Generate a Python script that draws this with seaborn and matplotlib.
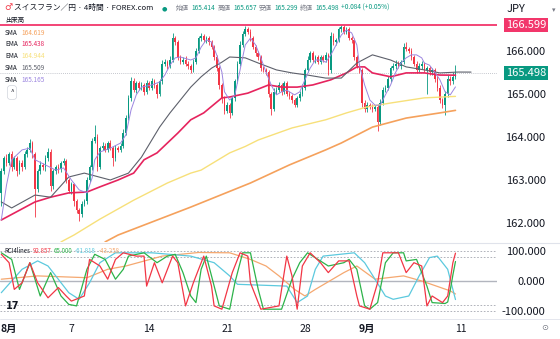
import numpy as np
import pandas as pd
import matplotlib
matplotlib.use("Agg")
import matplotlib.pyplot as plt
import seaborn as sns
from matplotlib.transforms import blended_transform_factory

# ---------------- data ----------------
first_open = 162.7
close = [
    163.2, 163.5, 163.4, 163.6, 163.3, 163.5, 163.2, 163.4, 163.3, 163.6,
    163.7, 163.85, 163.6, 162.8, 163.2, 163.35, 163.3, 163.5, 163.65, 162.85,
    163.2, 163.3, 163.25, 163.4, 163.45, 163.0, 162.75, 162.9, 162.5, 162.3,
    162.2, 162.45, 162.5, 163.0, 163.3, 163.9, 164.0, 163.3, 163.75, 163.8,
    163.7, 163.85, 163.75, 163.5, 163.75, 163.7, 163.8, 164.1, 164.45, 164.9,
    165.3, 165.1, 165.25, 165.15, 165.2, 165.05, 165.25, 165.15, 165.3, 165.2,
    165.0, 165.3, 165.7, 165.75, 165.65, 165.8, 166.3, 166.2, 165.85, 165.75,
    165.8, 165.7, 165.65, 165.55, 165.75, 166.0, 166.3, 166.35, 166.25, 166.3,
    166.2, 166.1, 165.85, 165.6, 165.2, 164.9, 164.6, 164.75, 164.55, 164.9,
    165.3, 165.7, 166.15, 166.4, 166.5, 166.45, 166.3, 166.1, 165.95, 165.85,
    165.6, 165.55, 165.5, 165.0, 164.65, 165.05, 165.1, 165.2, 165.05, 165.25,
    165.0, 164.95, 164.85, 164.75, 164.9, 165.0, 165.15, 165.55, 165.8, 165.95,
    165.8, 165.85, 165.75, 165.85, 165.8, 165.9, 165.55, 166.35, 166.2, 166.25,
    166.5, 166.55, 166.45, 166.5, 166.3, 166.25, 165.85, 165.65, 165.55, 164.8,
    164.65, 164.75, 164.7, 164.65, 164.7, 164.35, 164.8, 165.1, 165.15, 165.35,
    165.6, 165.65, 165.7, 165.65, 165.75, 166.1, 166.05, 166.0, 165.85, 165.7,
    165.55, 165.65, 165.7, 165.55, 165.6, 165.5, 165.55, 165.35, 165.15, 164.85,
    164.75, 165.0, 165.35, 165.3, 165.4, 165.498,
]
upper_wick = [  # hundredths of a yen
    8, 6, 10, 5, 8, 6, 5, 7, 6, 8,
    6, 10, 5, 4, 6, 8, 5, 7, 10, 6,
    5, 6, 8, 5, 6, 4, 5, 6, 4, 5,
    6, 5, 6, 8, 6, 8, 28, 6, 5, 8,
    6, 5, 8, 5, 6, 5, 6, 8, 6, 8,
    10, 8, 6, 5, 8, 6, 8, 6, 8, 6,
    5, 6, 8, 6, 5, 8, 12, 6, 5, 6,
    5, 8, 6, 5, 6, 8, 6, 6, 5, 6,
    5, 6, 5, 6, 5, 6, 5, 6, 5, 6,
    5, 6, 8, 6, 8, 6, 5, 6, 5, 6,
    5, 6, 5, 6, 5, 8, 6, 8, 5, 6,
    5, 6, 5, 6, 5, 6, 8, 6, 8, 6,
    5, 6, 5, 6, 5, 8, 6, 10, 6, 5,
    6, 5, 6, 6, 5, 6, 5, 6, 5, 6,
    5, 6, 5, 6, 5, 6, 8, 6, 5, 6,
    5, 6, 8, 6, 5, 8, 10, 5, 6, 5,
    6, 8, 6, 5, 6, 5, 6, 5, 6, 5,
    6, 6, 8, 6, 10, 17,
]
lower_wick = [
    30, 6, 8, 6, 8, 5, 10, 6, 8, 5,
    6, 5, 8, 66, 8, 5, 6, 8, 5, 10,
    6, 5, 8, 6, 5, 8, 6, 8, 10, 6,
    15, 6, 5, 6, 5, 6, 5, 8, 5, 6,
    5, 6, 5, 18, 6, 5, 6, 5, 6, 5,
    6, 5, 8, 6, 5, 8, 6, 5, 6, 5,
    10, 5, 6, 5, 8, 5, 6, 5, 6, 5,
    6, 5, 8, 6, 5, 6, 5, 6, 5, 6,
    5, 6, 5, 6, 8, 10, 6, 5, 10, 5,
    6, 5, 6, 5, 6, 5, 6, 5, 6, 5,
    6, 5, 6, 8, 15, 5, 6, 5, 8, 6,
    5, 6, 5, 6, 5, 6, 5, 6, 5, 6,
    5, 8, 6, 5, 6, 5, 10, 6, 5, 6,
    5, 6, 5, 6, 5, 6, 6, 5, 6, 10,
    8, 6, 5, 6, 5, 20, 6, 5, 6, 5,
    6, 5, 6, 5, 6, 5, 6, 5, 6, 5,
    6, 5, 6, 5, 55, 6, 5, 6, 8, 6,
    8, 24, 6, 8, 6, 6,
]

# moving averages (candle index, price)
sma_fast_i = [0, 2, 4, 8, 11, 13, 17, 21, 24, 27, 30, 33, 35, 36, 38, 42, 46, 48, 50, 52, 54, 58, 61, 63, 65, 67, 69,
              73, 75, 77, 79, 81, 83, 85, 86, 88, 90, 92, 94, 96, 98, 100, 102, 104, 106, 108, 110, 111, 113, 115,
              117, 119, 121, 123, 125, 127, 129, 131, 133, 135, 137, 138, 140, 142, 144, 146, 148, 150, 152, 154,
              156, 158, 160, 162, 163, 165, 167, 169, 171, 173, 175]
sma_fast_v = [162.07, 162.88, 163.47, 163.70, 163.74, 163.47, 163.35, 163.23, 163.28, 163.00, 162.77, 162.70, 163.05,
              163.47, 163.65, 163.74, 163.86, 164.05, 164.63, 164.98, 165.16, 165.21, 165.28, 165.44, 165.67, 165.84,
              165.86, 165.79, 165.84, 166.09, 166.26, 166.21, 165.91, 165.51, 165.05, 164.86, 164.98, 165.56, 166.14,
              166.30, 166.14, 165.84, 165.51, 165.21, 164.98, 165.05, 165.09, 165.05, 164.98, 165.05, 165.33, 165.60,
              165.79, 165.79, 165.74, 165.91, 166.14, 166.37, 166.49, 166.42, 166.14, 165.67, 165.21, 164.86, 164.74,
              164.74, 164.98, 165.21, 165.51, 165.72, 165.84, 165.91, 165.91, 165.84, 165.72, 165.67, 165.51, 165.33,
              165.05, 164.98, 165.165]
sma_mid_i = [0, 4, 13, 19, 26, 32, 42, 49, 54, 58, 61, 65, 69, 73, 77, 81, 85, 88, 94, 99, 106, 112, 118, 125, 131,
             137, 143, 150, 156, 163, 169, 176, 181]
sma_mid_v = [162.49, 162.35, 162.65, 162.60, 163.07, 163.16, 163.00, 163.16, 163.53, 163.93, 164.23, 164.56, 164.86,
             165.16, 165.40, 165.60, 165.74, 165.86, 165.84, 165.72, 165.56, 165.49, 165.44, 165.37, 165.37, 165.72,
             165.91, 165.79, 165.63, 165.56, 165.49, 165.51, 165.509]
ema_mid_i = [0, 13, 19, 26, 33, 38, 45, 51, 55, 60, 68, 73, 78, 85, 88, 95, 103, 108, 114, 120, 127, 133, 137, 140,
             143, 150, 156, 163, 169, 175]
ema_mid_v = [162.07, 162.49, 162.60, 162.70, 162.72, 162.84, 163.00, 163.16, 163.47, 163.63, 164.09, 164.40, 164.56,
             164.91, 164.93, 165.02, 165.21, 165.16, 165.16, 165.21, 165.33, 165.49, 165.63, 165.63, 165.49, 165.40,
             165.49, 165.49, 165.44, 165.438]
ema_slow_i = [23, 28, 38, 51, 64, 73, 77, 88, 94, 99, 112, 125, 133, 141, 150, 163, 175]
ema_slow_v = [161.56, 161.72, 162.09, 162.53, 162.93, 163.16, 163.23, 163.63, 163.78, 163.93, 164.21, 164.40, 164.56,
              164.70, 164.79, 164.91, 164.944]
sma_slow_i = [40, 45, 73, 96, 111, 125, 131, 143, 156, 169, 175]
sma_slow_v = [161.56, 161.72, 162.37, 162.93, 163.35, 163.70, 163.86, 164.23, 164.44, 164.56, 164.619]

# RCI 4 lines (candle index, value)
rci_short_i = [0, 3, 5, 8, 11, 14, 18, 22, 25, 27, 32, 34, 38, 41, 44, 47, 52, 55, 56, 59, 62, 66, 68, 71, 74, 78, 81,
               82, 85, 89, 92, 95, 96, 100, 107, 110, 112, 114, 116, 119, 123, 126, 130, 134, 137, 138, 142, 145, 147,
               153, 156, 159, 162, 164, 166, 170, 172, 174, 175]
rci_short_v = [89, 61, -28, -6, 61, -6, -56, -22, -50, -67, -50, 72, 50, 6, 72, 94, 83, 83, -17, 61, -6, 83, 61, -83,
               -6, 83, -17, -83, -94, 28, 94, 83, -6, -94, -83, 83, 17, -94, 50, 94, 61, 28, 67, 67, -50, -83, -94, -6,
               94, 94, 28, 61, 50, -83, -50, -72, -50, 61, 92.857]
rci_mid_i = [0, 4, 7, 11, 15, 19, 23, 26, 29, 33, 36, 40, 44, 47, 49, 55, 60, 64, 67, 70, 73, 75, 77, 79, 81, 84, 88,
             90, 93, 96, 99, 101, 108, 112, 115, 118, 122, 126, 132, 134, 137, 140, 142, 145, 148, 151, 155, 156, 160,
             164, 166, 171, 172, 173, 174, 175]
rci_mid_v = [94, 72, -28, 61, -50, 28, -50, -78, -83, 39, 89, 72, 6, 39, 83, 94, 61, 83, 89, 28, -50, -72, 39, 83, 17,
             -83, -94, -6, 94, 94, -28, -94, -94, 6, 61, 94, 72, 50, 61, 72, 39, -83, -94, -72, 61, 94, 94, 67, 72,
             -17, -72, -75, -70, -30, 20, 65.0]
rci_long_i = [0, 8, 14, 18, 26, 30, 34, 38, 44, 58, 73, 82, 88, 91, 110, 114, 118, 121, 124, 136, 140, 144, 148, 151,
              157, 161, 165, 168, 172, 175]
rci_long_v = [-39, 39, 67, 50, -39, -61, -6, 61, 94, 94, 83, 61, 17, -11, -17, -72, -50, 39, 83, 94, 61, 6, -50, -61,
              -50, 17, 78, 83, 39, -61.818]
rci_xlong_i = [0, 14, 33, 41, 48, 62, 76, 88, 96, 102, 107, 113, 117, 121, 132, 137, 144, 155, 162, 173, 175]
rci_xlong_v = [6, 17, 11, 39, 50, 83, 95, 94, 72, 50, 17, -28, -50, -28, 28, 50, 6, 17, 0, -33, -43.258]

tick_pos = [3, 27, 57, 87, 117, 141, 177]
tick_lab = ["8月", "7", "14", "21", "28", "9月", "11"]
price_ticks = [162, 163, 164, 165, 166]
rci_ticks = [-100, 0, 100]
rci_tick_lab = ["-100.000", "0.000", "100.000"]
hline_price = 166.599
last_price = 165.498

# ---------------- style ----------------
sns.set_theme(style="white")
plt.rcParams['font.family'] = ['Noto Sans CJK JP', 'DejaVu Sans']
plt.rcParams['axes.unicode_minus'] = False

GREEN = "#089981"
RED = "#F23645"
TXT = "#131722"
GREY = "#787B86"
C_FAST = "#9C86E0"
C_MID = "#5D606B"
C_EMA = "#E6245E"
C_EMAS = "#F7E07A"
C_SMAS = "#F5A15C"
R_RED = "#F23645"
R_GRN = "#2DB34A"
R_CYN = "#5CC9DE"
R_ORG = "#F5A870"

W, H = 560, 339
fig = plt.figure(figsize=(W / 100, H / 100), dpi=100)
fig.patch.set_facecolor("white")


def px_axes(x0, y0, x1, y1):
    return fig.add_axes([x0 / W, 1 - y1 / H, (x1 - x0) / W, (y1 - y0) / H])


ax = px_axes(0, 14, 497, 242)
ax2 = px_axes(0, 243.5, 497, 318.5)

# ---------------- candles ----------------
c = np.array(close)
o = np.r_[first_open, c[:-1]]
hi = np.maximum(o, c) + np.array(upper_wick) / 100
lo = np.minimum(o, c) - np.array(lower_wick) / 100
idx = np.arange(len(c))
cols = np.where(c >= o, GREEN, RED)
ax.vlines(idx, lo, hi, colors=cols, linewidth=0.6, zorder=3)
body = np.maximum(np.abs(c - o), 0.012)
ax.bar(idx, body, bottom=np.minimum(o, c), width=0.62, color=cols, linewidth=0, zorder=4)

# moving averages
for xi, yv, colr, lw in [
    (sma_slow_i, sma_slow_v, C_SMAS, 1.2),
    (ema_slow_i, ema_slow_v, C_EMAS, 1.0),
    (ema_mid_i, ema_mid_v, C_EMA, 1.2),
    (sma_mid_i, sma_mid_v, C_MID, 0.8),
    (sma_fast_i, sma_fast_v, C_FAST, 0.7),
]:
    sns.lineplot(x=xi, y=yv, ax=ax, color=colr, linewidth=lw, zorder=5)

ax.axhline(hline_price, color="#F2366B", lw=1.3, zorder=6)
ax.axhline(last_price, color="#B2B5BE", lw=0.6, ls=(0, (1, 1.5)), zorder=2)

ax.set_xlim(-0.5, 191)
ax.set_ylim(161.558, 166.860)
ax.set_xticks([])
ax.set_yticks(price_ticks)
ax.set_yticklabels([f"{v:.3f}" for v in price_ticks])
ax.tick_params(axis="y", left=False, labelleft=False, right=True, labelright=True,
               length=0, pad=35, labelsize=8, labelcolor=TXT)
for t in ax.get_yticklabels():
    t.set_horizontalalignment("right")
for s in ax.spines.values():
    s.set_visible(False)
ax.set_xlabel("")
ax.set_ylabel("")

tr = blended_transform_factory(ax.transAxes, ax.transData)
ax.text(546 / 497, hline_price, f"{hline_price:.3f}", transform=tr, ha="right", va="center",
        fontsize=8, color="white", clip_on=False,
        bbox=dict(facecolor="#F2366B", edgecolor="none", boxstyle="square,pad=0.18"))
ax.text(546 / 497, last_price, f"{last_price:.3f}", transform=tr, ha="right", va="center",
        fontsize=8, color="white", clip_on=False,
        bbox=dict(facecolor=GREEN, edgecolor="none", boxstyle="square,pad=0.18"))

# ---------------- RCI pane ----------------
for xi, yv, colr in [
    (rci_xlong_i, rci_xlong_v, R_ORG),
    (rci_long_i, rci_long_v, R_CYN),
    (rci_mid_i, rci_mid_v, R_GRN),
    (rci_short_i, rci_short_v, R_RED),
]:
    sns.lineplot(x=xi, y=yv, ax=ax2, color=colr, linewidth=0.9, zorder=5)

ax2.axhline(0, color="#B2B5BE", lw=1.0, zorder=1)
for v in (100, 80, -80, -100):
    ax2.axhline(v, color="#A3A6AF", lw=0.6, ls=(0, (2, 2)), zorder=1)
ax2.set_xlim(-0.5, 191)
ax2.set_ylim(-125, 125)
ax2.set_yticks(rci_ticks)
ax2.set_yticklabels(rci_tick_lab)
ax2.tick_params(axis="y", left=False, labelleft=False, right=True, labelright=True,
                length=0, pad=35, labelsize=8, labelcolor=TXT)
for t in ax2.get_yticklabels():
    t.set_horizontalalignment("right")
ax2.set_xticks(tick_pos)
ax2.set_xticklabels(tick_lab)
ax2.tick_params(axis="x", bottom=True, length=0, pad=4, labelsize=7.5, labelcolor=TXT)
for t in ax2.get_xticklabels():
    if "月" in t.get_text():
        t.set_fontweight("bold")
for s in ax2.spines.values():
    s.set_visible(False)
ax2.set_xlabel("")
ax2.set_ylabel("")

# pane separators
fig.add_artist(plt.Line2D([0, 1], [1 - 243 / H, 1 - 243 / H], color="#E0E3EB", lw=0.8))
fig.add_artist(plt.Line2D([0, 1], [1 - 319 / H, 1 - 319 / H], color="#E0E3EB", lw=0.6))

# ---------------- texts ----------------
renderer = fig.canvas.get_renderer()


def seq_text(pieces, x_px, y_px, size, gap=3.0):
    x = x_px
    for s, colr, wgt in pieces:
        t = fig.text(x / W, 1 - y_px / H, s, color=colr, fontsize=size, fontweight=wgt,
                     ha="left", va="center")
        bb = t.get_window_extent(renderer=renderer)
        x += bb.width + gap
    return x


fig.text(4 / W, 1 - 8 / H, "♂", color="#F23645", fontsize=6.5, ha="left", va="center",
         family=["DejaVu Sans"])
seq_text([("スイスフラン／円 · 4時間 · FOREX.com", TXT, "normal")], 14, 8, 5.6)
fig.text(164 / W, 1 - 8.5 / H, "●", color=GREEN, fontsize=4.5, ha="center", va="center",
         family=["DejaVu Sans"])
seq_text([("始値", GREY, "normal"), ("165.414", GREEN, "normal"),
          ("高値", GREY, "normal"), ("165.657", GREEN, "normal"),
          ("安値", GREY, "normal"), ("165.299", GREEN, "normal"),
          ("終値", GREY, "normal"), ("165.498", GREEN, "normal"),
          ("+0.084 (+0.05%)", GREEN, "normal")], 176, 8, 4.7, gap=2.4)

fig.text(507 / W, 1 - 9 / H, "JPY", color=TXT, fontsize=8, ha="left", va="center")
fig.text(554 / W, 1 - 10 / H, "▾", color=GREY, fontsize=5, ha="center", va="center",
         family=["DejaVu Sans"])

fig.text(5 / W, 1 - 20 / H, "出来高", color=TXT, fontsize=4.6, ha="left", va="center")

legend_rows = [("SMA", "164.619", C_SMAS, 33), ("EMA", "165.438", C_EMA, 44.5),
               ("EMA", "164.944", C_EMAS, 56), ("SMA", "165.509", C_MID, 68),
               ("SMA", "165.165", C_FAST, 80)]
for name, val, colr, ypx in legend_rows:
    seq_text([(name, TXT, "normal"), (val, colr, "normal")], 5, ypx, 4.6, gap=3.5)
fig.text(12 / W, 1 - 92.5 / H, "^", color=TXT, fontsize=4.6, ha="center", va="center",
         bbox=dict(facecolor="white", edgecolor="#D1D4DC", boxstyle="round,pad=0.45", lw=0.5))

seq_text([("RCI4lines", TXT, "normal"), ("92.857", R_RED, "normal"), ("65.000", R_GRN, "normal"),
          ("-61.818", R_CYN, "normal"), ("-43.258", R_ORG, "normal")], 4, 251, 4.4, gap=2.5)

fig.text(13 / W, 1 - 306 / H, "17", color=TXT, fontsize=7, fontweight="heavy", ha="center",
         va="center", family=["DejaVu Sans"])
fig.text(545 / W, 1 - 328 / H, "⊙", color=GREY, fontsize=6, ha="center", va="center",
         family=["DejaVu Sans"])

fig.savefig("out.png", dpi=100, facecolor="white")
